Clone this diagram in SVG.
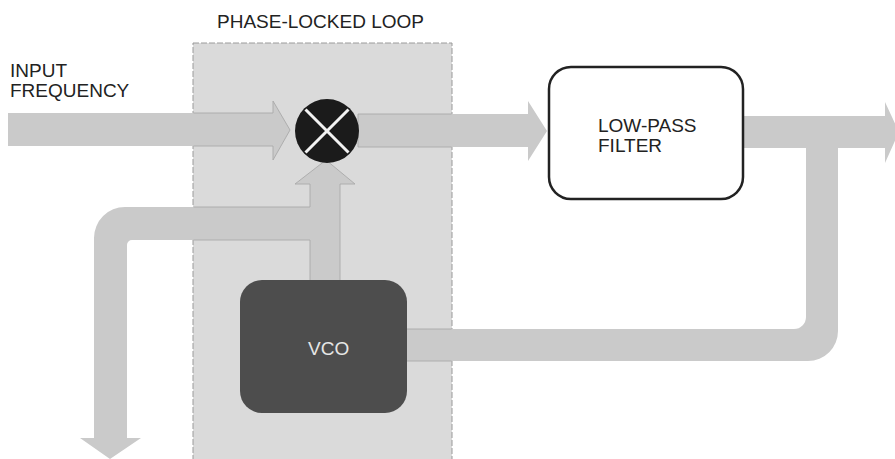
<svg xmlns="http://www.w3.org/2000/svg" width="895" height="459" viewBox="0 0 895 459">
<style>
.t{font-family:"Liberation Sans",Arial,sans-serif;font-size:19px;fill:#222}
.fill{fill:#cacaca;stroke:none}
.edge{fill:none;stroke:#a9a9a9;stroke-width:0.9}
</style>
<defs>
<clipPath id="inbox"><rect x="193.5" y="43.5" width="258" height="430"/></clipPath>
<path id="a1" d="M8 113 L273 113 L273 101 L290 130 L273 160 L273 146 L8 146 Z"/>
<path id="a2" d="M358 114 L528 114 L528 101 L547 131 L528 161 L528 147 L358 147 Z"/>
<path id="a3" d="M743 116 L885 116 L885 102 L899 132 L885 163 L885 148 L743 148 Z"/>
<path id="a4" d="M806 147 L838 147 L838 331 A30 30 0 0 1 808 361 L405 361 L405 329 L794 329 A12 12 0 0 0 806 317 Z"/>
<path id="a5" d="M340 282 L340 184 L355 184 L326 160 L295 184 L310 184 L310 207 L125 207 A31 31 0 0 0 94 238 L94 438 L80 438 L110 459 L141 438 L127 438 L127 245 A5 5 0 0 1 132 240 L310 240 L310 282 Z"/>
</defs>
<rect width="895" height="459" fill="#ffffff"/>
<g id="pll">
<rect x="193" y="43" width="259" height="430" fill="#dadada" stroke="#9a9a9a" stroke-width="1" stroke-dasharray="6 2"/>
<text class="t" x="217" y="28">PHASE-LOCKED LOOP</text>
</g>
<g id="input-label">
<text class="t" x="10" y="77">INPUT</text>
<text class="t" x="10" y="97">FREQUENCY</text>
</g>
<g id="connectors">
<use href="#a1" class="fill"/>
<use href="#a2" class="fill"/>
<use href="#a3" class="fill"/>
<use href="#a4" class="fill"/>
<use href="#a5" class="fill"/>
<g clip-path="url(#inbox)">
<use href="#a1" class="edge"/>
<use href="#a2" class="edge"/>
<use href="#a4" class="edge"/>
<use href="#a5" class="edge"/>
</g>
</g>
<g id="mixer">
<circle cx="327" cy="131" r="32" fill="#1b1b1b"/>
<path d="M305.5 109.5 L348.5 152.5 M348.5 109.5 L305.5 152.5" stroke="#f2f2f2" stroke-width="3"/>
</g>
<g id="lpf">
<rect x="549" y="67" width="194" height="132" rx="22" ry="22" fill="#ffffff" stroke="#222" stroke-width="2.5"/>
<text class="t" x="598" y="132">LOW-PASS</text>
<text class="t" x="598" y="152">FILTER</text>
</g>
<g id="vco">
<rect x="240" y="280" width="167" height="133" rx="22" ry="22" fill="#4d4d4d"/>
<text class="t" x="308" y="355" style="fill:#e6e6e6">VCO</text>
</g>
</svg>
